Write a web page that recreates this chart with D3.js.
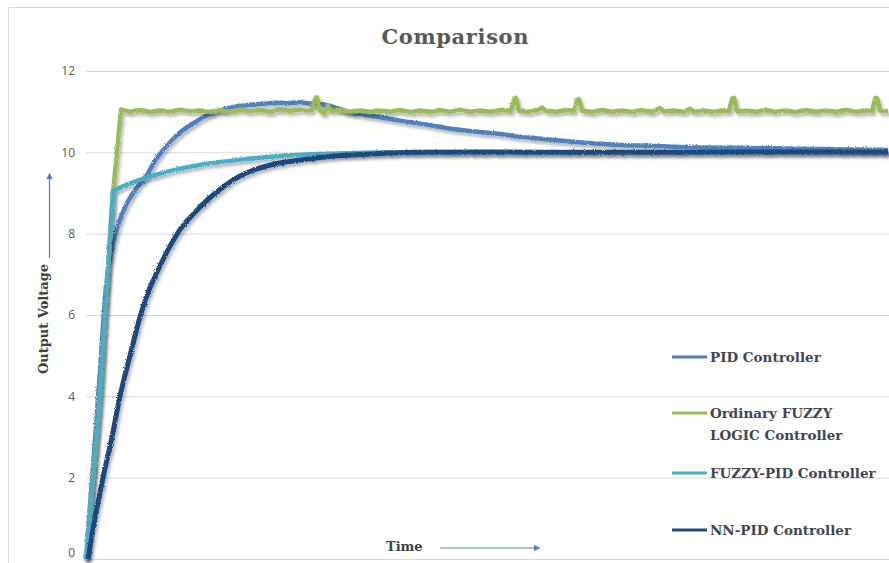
<!DOCTYPE html>
<html>
<head>
<meta charset="utf-8">
<script src="https://cdnjs.cloudflare.com/ajax/libs/d3/7.8.5/d3.min.js"></script>
<style>
  body { margin: 0; background: #fff; }
  svg { display: block; }
  .grid line { stroke: #d9d9d9; stroke-width: 1px; }
  .grid .domain { display: none; }
  .grid text { fill: #595959; font-family: "Open Sans", sans-serif; font-size: 12px; }
  .title { font-family: "DejaVu Serif", serif; font-weight: bold; fill: #595959; font-size: 21px; }
  .lbl { font-family: "DejaVu Serif", serif; font-weight: bold; fill: #404040; font-size: 13px; }
  .legend text { font-family: "DejaVu Serif", serif; font-weight: bold; fill: #3f4652; font-size: 13.5px; }
</style>
</head>
<body>
<script>
// values: [time, output voltage]
var pidData = [[0,0],[4,2.6],[7,4.6],[9.5,6.4],[11,7.1],[13,7.6],[16,8.2],[20,8.7],[25,9.1],[30.5,9.45],
  [34,9.75],[38.5,10.05],[45,10.4],[50,10.6],[55.5,10.77],[60,10.9],[64,10.98],[72,11.1],[82,11.17],[90,11.2],
  [95,11.22],[101,11.21],[107,11.23],[112,11.2],[118,11.18],[125,11.1],[132,10.98],[140,10.92],[145,10.88],
  [151,10.83],[157,10.78],[168,10.7],[180,10.6],[193,10.52],[207,10.45],[218,10.38],[230,10.32],[243,10.26],
  [257,10.21],[268,10.18],[280,10.16],[293,10.14],[307,10.12],[322,10.11],[340,10.1],[355,10.09],[370,10.08],
  [385,10.07],[401,10.06]];

var fuzzyData = [[0,0],[7,4.0],[9.5,6.0],[13.5,9.0],[17.5,11.05],[22,11.0],[27,11.04],[32,10.99],[37,11.03],[42,11.0],[47,11.05],
  [52,11.01],[57,11.03],[62,10.99],[67,11.04],[72,11.0],[77,11.05],[82,11.01],[87,11.04],[92,11.0],[97,11.06],
  [102,11.02],[107,11.05],[111,11.02],[113,11.04],[114.5,11.3],[115.5,11.36],[117,11.02],[119,10.96],[121,11.15],
  [122.5,11.02],[127,11.04],[132,11.0],[137,11.03],[142,10.99],[147,11.03],[152,11.0],[157,11.04],[162,10.99],
  [167,11.03],[172,11.0],[177,11.04],[182,11.0],[187,11.05],[192,11.0],[197,11.03],[202,11.0],[207,11.04],
  [212.5,11.02],[214,11.3],[215,11.34],[216.5,11.02],[221,11.0],[226,11.04],[228,11.1],[230,11.02],[235,11.0],
  [240,11.04],[244,11.02],[245.5,11.28],[246.5,11.31],[248,11.02],[253,11.0],[258,11.04],[263,11.0],[268,11.03],
  [273,10.99],[278,11.04],[283,11.0],[287,11.09],[289,11.01],[294,11.03],[299,11.0],[302,11.07],[304,11.0],
  [309,11.03],[314,10.99],[318,11.03],[321.5,11.01],[323,11.32],[324,11.34],[325.5,11.01],[330,11.02],[335,11.0],
  [340,11.04],[345,11.0],[350,11.03],[355,10.99],[360,11.04],[365,11.0],[370,11.03],[375,11.0],[380,11.04],
  [385,11.0],[390,11.03],[393,11.01],[394.5,11.32],[395.5,11.34],[397,11.02],[401,11.01]];

var fuzzyPidData = [[0,0],[7,4.0],[9.5,6.0],[13.5,9.05],[20,9.2],[30,9.38],[40,9.52],[50,9.63],[60,9.72],
  [72,9.79],[85,9.86],[100,9.92],[115,9.96],[130,9.98],[150,10.0],[401,10.0]];

var nnPidData = [[1,0],[2,0.3],[4.5,1.0],[8.5,2.0],[13,3.0],[17,4.0],[22,5.0],[27,5.95],[31,6.55],[35,7.0],
  [41,7.6],[47,8.1],[54,8.5],[60,8.8],[66,9.05],[72,9.27],[77,9.42],[82,9.53],[95,9.72],[110,9.83],
  [122,9.9],[140,9.95],[163.5,10.0],[200,10.01],[260,10.0],[330,10.01],[401,10.0]];

var seriesNames = ["PID Controller", "Ordinary FUZZY|LOGIC  Controller", "FUZZY-PID Controller", "NN-PID Controller"];
var seriesColors = ["#4f81bd", "#9bbb59", "#4bacc6", "#1f497d"];
var yTicks = [0, 2, 4, 6, 8, 10, 12];

var W = 889, H = 563;
var svg = d3.select("body").append("svg").attr("width", W).attr("height", H);

var defs = svg.append("defs");
var f = defs.append("filter").attr("id", "rough").attr("x", "-5%").attr("y", "-20%").attr("width", "110%").attr("height", "140%");
f.append("feTurbulence").attr("type", "fractalNoise").attr("baseFrequency", 0.9).attr("numOctaves", 1).attr("result", "n");
f.append("feDisplacementMap").attr("in", "SourceGraphic").attr("in2", "n").attr("scale", 3).attr("result", "d");
f.append("feDropShadow").attr("in", "d").attr("dx", 2).attr("dy", 3).attr("stdDeviation", 1.8)
  .attr("flood-color", "#000").attr("flood-opacity", 0.28);

var mk = defs.append("marker").attr("id", "arr").attr("viewBox", "0 0 10 10").attr("refX", 5).attr("refY", 5)
  .attr("markerWidth", 5.5).attr("markerHeight", 5.5).attr("orient", "auto-start-reverse");
mk.append("path").attr("d", "M0,0L10,5L0,10z").attr("fill", "#4f81bd");

// chart border
svg.append("path").attr("d", "M8.5," + H + "V7.5H" + W).attr("fill", "none").attr("stroke", "#d9d9d9");

var x = d3.scaleLinear().domain([0, 400]).range([86, 886]);
var y = d3.scaleLinear().domain([0, 12]).range([559, 71]);

var grid = svg.append("g").attr("class", "grid").attr("transform", "translate(86,0)")
  .call(d3.axisLeft(y).tickValues(yTicks).tickSize(-(W - 86)).tickPadding(11).tickFormat(d3.format("d")));
// lift the bottom label so it stays inside the frame
grid.selectAll(".tick text").filter(function(d) { return d === 0; }).attr("dy", "-0.2em");

svg.append("text").attr("class", "title").attr("x", 455).attr("y", 44).attr("text-anchor", "middle")
  .attr("textLength", 147).text("Comparison");

var smooth = d3.line().x(function(d) { return x(d[0]); }).y(function(d) { return y(d[1]); }).curve(d3.curveMonotoneX);
var sharp = d3.line().x(function(d) { return x(d[0]); }).y(function(d) { return y(d[1]); });

var plot = svg.append("g");
[pidData, fuzzyData, fuzzyPidData, nnPidData].forEach(function(data, i) {
  plot.append("path").datum(data)
    .attr("d", (i == 1 || i == 2) ? sharp : smooth)
    .attr("fill", "none")
    .attr("stroke", seriesColors[i])
    .attr("stroke-width", i == 3 ? 5 : 4.5)
    .attr("stroke-linejoin", "round")
    .attr("filter", "url(#rough)");
});

// axis captions with arrows
svg.append("text").attr("class", "lbl").attr("transform", "translate(48,319) rotate(-90)")
  .attr("text-anchor", "middle").text("Output Voltage");
svg.append("line").attr("x1", 49.5).attr("x2", 49.5).attr("y1", 258).attr("y2", 176)
  .attr("stroke", "#4f81bd").attr("stroke-width", 1.2).attr("marker-end", "url(#arr)");

svg.append("text").attr("class", "lbl").attr("x", 386).attr("y", 551).text("Time");
svg.append("line").attr("x1", 440).attr("x2", 537).attr("y1", 548).attr("y2", 548)
  .attr("stroke", "#4f81bd").attr("stroke-width", 1.2).attr("marker-end", "url(#arr)");

// legend
var legY = [357, 413, 473, 530];
var leg = svg.append("g").attr("class", "legend");
seriesNames.forEach(function(name, i) {
  var g = leg.append("g").attr("transform", "translate(0," + legY[i] + ")");
  g.append("line").attr("x1", 672).attr("x2", 707).attr("stroke", seriesColors[i]).attr("stroke-width", 3);
  var t = g.append("text").attr("x", 710).attr("y", 5);
  name.split("|").forEach(function(s, k) {
    t.append("tspan").attr("x", 710).attr("dy", k ? 22 : 0).text(s);
  });
});
</script>
</body>
</html>
